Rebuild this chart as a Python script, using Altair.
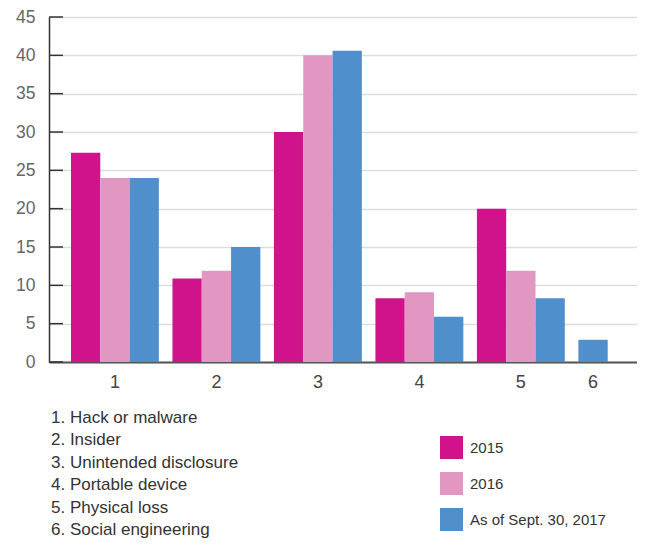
import altair as alt
import pandas as pd

groups = ["1", "2", "3", "4", "5", "6"]
names = ["Hack or malware", "Insider", "Unintended disclosure",
         "Portable device", "Physical loss", "Social engineering"]
series = ["2015", "2016", "As of Sept. 30, 2017"]
v2015 = [27.3, 10.9, 30.0, 8.3, 20.0, None]
v2016 = [24.0, 11.9, 40.0, 9.1, 11.9, None]
v2017 = [24.0, 15.0, 40.6, 5.9, 8.3, 2.9]
colors = ["#D0138A", "#E197C2", "#4F8FCC"]
y_ticks = [0, 5, 10, 15, 20, 25, 30, 35, 40, 45]

# layout: bars of one group sit side by side; only present bars take a slot
STEP = 3.464  # group step in bar widths
rows, label_rows = [], []
for g, grp in enumerate(groups):
    present = [(s, v) for s, v in zip(series, (v2015[g], v2016[g], v2017[g])) if v is not None]
    for i, (s, v) in enumerate(present):
        rows.append({"group": grp, "series": s, "value": v,
                     "x0": g * STEP + i, "x1": g * STEP + i + 1})
    label_rows.append({"group": grp, "xc": g * STEP + len(present) / 2})
bars_df = pd.DataFrame(rows)
labels_df = pd.DataFrame(label_rows)
list_df = pd.DataFrame({"item": [f"{g}. {n}" for g, n in zip(groups, names)]})
ticks_df = pd.DataFrame({"tick": y_ticks})

W, H = 588, 345
FONT = "Liberation Sans"

xscale = alt.Scale(domain=[-0.75, 19.32], nice=False, zero=False)
xaxis = alt.Axis(labels=False, ticks=False, grid=False, title=None,
                 domainColor="#555", domainWidth=2)
yscale = alt.Scale(domain=[0, 45], nice=False)
yaxis = alt.Axis(values=y_ticks, title=None, ticks=False, labelPadding=14,
                 labelFontSize=17.5, labelColor="#666", labelFont=FONT,
                 gridColor="#DDDDDD", gridWidth=1.5,
                 domainColor="#333", domainWidth=1.5)

bars = alt.Chart(bars_df).mark_bar().encode(
    x=alt.X("x0:Q", scale=xscale, axis=xaxis),
    x2="x1:Q",
    y=alt.Y("value:Q", scale=yscale, axis=yaxis),
    y2=alt.datum(0),
    color=alt.Color("series:N",
                    scale=alt.Scale(domain=series, range=colors),
                    legend=alt.Legend(title=None, orient="none", legendX=391, legendY=419,
                                      symbolType="square", symbolSize=529,
                                      symbolStrokeWidth=0, rowPadding=13,
                                      labelFontSize=15, labelFont=FONT,
                                      labelColor="#333", labelOffset=7,
                                      padding=0, labelLimit=300)),
)

ticks = alt.Chart(ticks_df).mark_rule(color="#333", strokeWidth=1.5).encode(
    y=alt.Y("tick:Q", scale=yscale, axis=yaxis),
    x=alt.value(0), x2=alt.value(14),
)

xlabels = alt.Chart(labels_df).mark_text(
    fontSize=18, font=FONT, color="#444", baseline="middle"
).encode(
    x=alt.X("xc:Q", scale=xscale, axis=xaxis),
    y=alt.value(H + 21),
    text="group:N",
)

listing = alt.Chart(list_df).mark_point(opacity=0).encode(
    shape=alt.Shape("item:N",
                    legend=alt.Legend(title=None, orient="none", legendX=-15, legendY=392,
                                      symbolSize=1, symbolOpacity=0, labelOffset=0,
                                      symbolStrokeWidth=0,
                                      labelFontSize=17, labelFont=FONT, labelColor="#333",
                                      rowPadding=4.5, padding=0, labelLimit=400)),
)

chart = alt.layer(bars, ticks, xlabels, listing).properties(
    width=W, height=H,
    autosize=alt.AutoSizeParams(type="none"),
    padding={"left": 41, "top": 9, "right": 0, "bottom": 180},
).configure_view(stroke=None)

chart.save("out.html", embed_options={"renderer": "svg", "actions": False})
